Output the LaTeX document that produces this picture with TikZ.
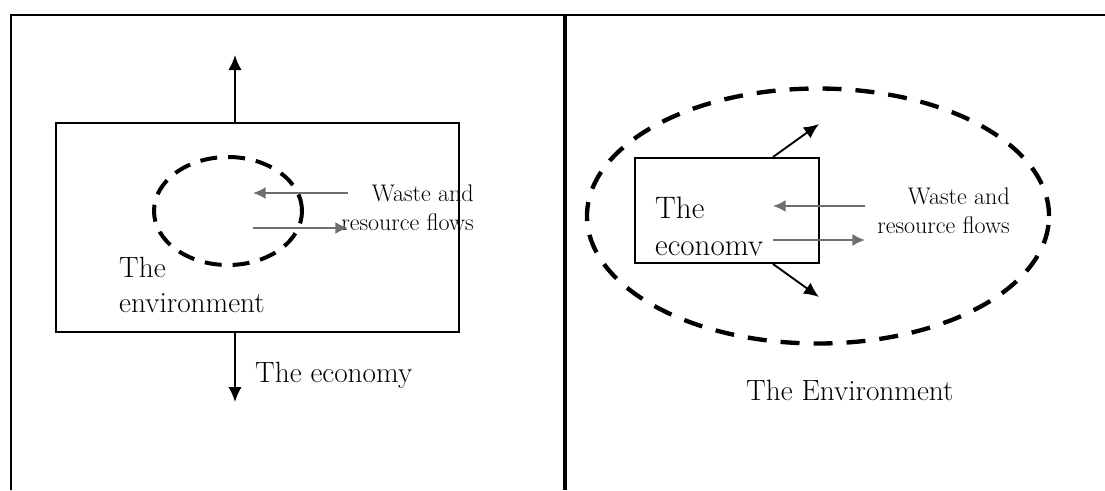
\documentclass[tikz,border=0pt]{standalone}
\usepackage{tikz}
\usetikzlibrary{arrows.meta,shapes.geometric}
\definecolor{grigio}{HTML}{6E6E6E}

\begin{document}
\begin{tikzpicture}[x=0.03cm, y=-0.03cm,
    frame/.style={line width=2.4pt},
    cella/.style={draw, line width=1.7pt, inner sep=0pt},
    bolla/.style={ellipse, draw, line width=3.4pt, dash pattern=on 0.51cm off 0.33cm, inner sep=0pt},
    freccia/.style={-{Latex[length=0.45cm,width=0.4cm]}, line width=1.6pt},
    flusso/.style={-{Latex[length=0.38cm,width=0.36cm]}, line width=1.6pt, grigio},
    grande/.style={font=\fontsize{25}{30}\selectfont, inner sep=0pt},
    piccolo/.style={font=\fontsize{20.5}{24}\selectfont, align=right, inner sep=0pt}]
        \useasboundingbox (0,0) rectangle (1105,490);
        % Cornice
        \draw[frame] (11,490) |- (1105,15);
        \draw[frame, line width=3.2pt] (565,15) -- (565,490);
        % Pannello sinistro
        \node[cella, minimum width=12.09cm, minimum height=6.27cm] (envL) at (257.5,227.5) {};
        \node[bolla, minimum width=4.44cm, minimum height=3.24cm] (ecoL) at (228,211) {};
        \coordinate (upL) at (235,55);
        \coordinate (downL) at (235,402);
        \draw[freccia] (upL |- envL.north) -- (upL);
        \draw[freccia] (downL |- envL.south) -- (downL);
        \node[grande, anchor=base west] (ecoLbl) at (255,382) {The economy};
        \node[grande, anchor=north west, align=left] (envLbl) at (119,257) {The\\environment};
        \node[piccolo, anchor=north east] (flowsL) at (474,185) {Waste and\\resource flows};
        \coordinate (inL) at (253,193);
        \coordinate (outL) at (348,228);
        \draw[flusso] (outL |- inL) -- (inL);
        \draw[flusso] (inL |- outL) -- (outL);
        % Pannello destro
        \node[bolla, minimum width=13.86cm, minimum height=7.65cm, line width=3.7pt,
            dash pattern=on 0.57cm off 0.42cm] (envR) at (818,216) {};
        \node[cella, minimum width=5.52cm, minimum height=3.15cm] (ecoR) at (727,210.5) {};
        \begin{scope}
            \clip (635,158) rectangle (819,255);
            \node[grande, font=\fontsize{26.5}{31.5}\selectfont, anchor=north west, align=left]
                (ecoRlbl) at (655,197) {The\\economy};
        \end{scope}
        \coordinate (neR) at (819,124);
        \coordinate (seR) at (819,297);
        \draw[freccia] ([xshift=1.38cm]ecoR.north) -- (neR);
        \draw[freccia] ([xshift=1.38cm]ecoR.south) -- (seR);
        \node[piccolo, anchor=north east] (flowsR) at (1010,188) {Waste and\\resource flows};
        \coordinate (inR) at (773,206);
        \coordinate (outR) at (865,240);
        \draw[flusso] (outR |- inR) -- (inR);
        \draw[flusso] (inR |- outR) -- (outR);
        \node[grande, anchor=base west] (envRlbl) at (746,400) {The Environment};
    \end{tikzpicture}
\end{document}
